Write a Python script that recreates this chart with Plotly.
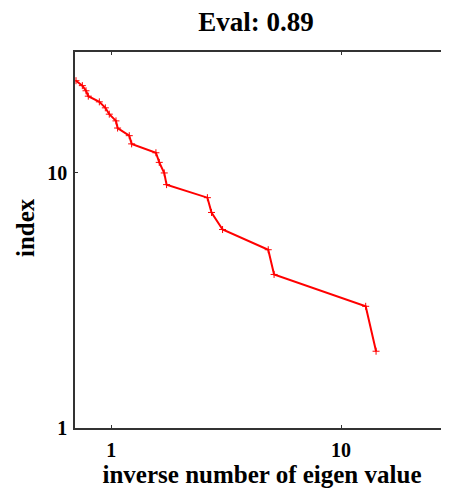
import plotly.graph_objects as go
import math

# data (log-log)
inv_eig = [0.702, 0.748, 0.776, 0.794, 0.887, 0.942, 0.98, 1.048, 1.065, 1.197, 1.226,
           1.564, 1.617, 1.70, 1.74, 2.62, 2.73, 3.05, 4.82, 5.11, 12.8, 14.2]
index = [23, 22, 21, 20, 19, 18, 17, 16, 15, 14, 13, 12, 11, 10, 9, 8, 7, 6, 5, 4, 3, 2]
x_ticks = [1, 10]
y_ticks = [1, 10]

FONT = "Liberation Serif"
W, H = 441, 480  # page body adds an 8px offset
L, T, B = 67, 44, 60

fig = go.Figure()
fig.add_trace(go.Scatter(
    x=inv_eig, y=index, mode="lines+markers",
    line=dict(color="#ff0000", width=2),
    marker=dict(symbol="cross-thin", size=5, color="#ff0000",
                line=dict(color="#ff0000", width=1)),
    showlegend=False,
))

fig.update_layout(
    width=W, height=H,
    margin=dict(l=L, r=0, t=T, b=B),
    paper_bgcolor="white", plot_bgcolor="white",
    title=dict(text="Eval: 0.89", x=248 / W, xref="container", xanchor="center",
               y=1 - 14 / H, yanchor="middle",
               font=dict(family=FONT, size=27, color="black", weight="bold")),
    xaxis=dict(
        type="log", range=[math.log10(0.695), math.log10(29.5)],
        tickvals=x_ticks, ticktext=[str(v) for v in x_ticks],
        ticks="inside", ticklen=3, tickcolor="#333", tickwidth=1,
        showline=True, linecolor="#333", linewidth=1.5, mirror="ticks",
        showgrid=False, zeroline=False,
        ticklabelstandoff=3,
        tickfont=dict(family=FONT, size=20, color="black", weight="bold"),
        title=dict(text="inverse number of eigen value", standoff=7,
                   font=dict(family=FONT, size=25, color="black", weight="bold")),
    ),
    yaxis=dict(
        type="log", range=[0, math.log10(29.8)],
        tickvals=y_ticks, ticktext=[str(v) for v in y_ticks],
        ticks="inside", ticklen=3, tickcolor="#333", tickwidth=1,
        showline=True, linecolor="#333", linewidth=1.5, mirror=False,
        showgrid=False, zeroline=False,
        ticklabelstandoff=2,
        tickfont=dict(family=FONT, size=20, color="black", weight="bold"),
    ),
    annotations=[dict(
        text="index", textangle=-90, showarrow=False,
        xref="paper", yref="paper",
        x=(17 - L) / (W - L), y=(H - B - 220) / (H - T - B),
        xanchor="center", yanchor="middle",
        font=dict(family=FONT, size=25, color="black", weight="bold"),
    )],
)

fig.write_html("out.html")
